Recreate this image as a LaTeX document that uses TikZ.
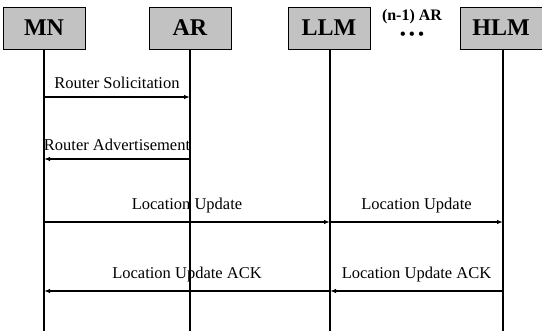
\documentclass[tikz,border=0pt]{standalone}
\usepackage{fontspec}
\setmainfont{Liberation Serif}
\usetikzlibrary{positioning,arrows.meta}
\definecolor{mygray}{rgb}{0.76,0.76,0.76}

\begin{document}
\begin{tikzpicture}[x=1pt, y=1pt, font=\fontsize{16.5}{19}\selectfont,
  entity/.style={draw=black, thick, fill=mygray, minimum width=82pt, minimum height=42pt, inner sep=0pt, font=\fontsize{24}{27}\selectfont\bfseries},
  lifeline/.style={line width=1.4pt},
  msg/.style={line width=1.2pt, -{Latex[length=6pt, width=4.5pt]}},
  msglabel/.style={midway, above=8pt, inner sep=0pt}]
\useasboundingbox (0,0) rectangle (542,331);

% entities
\node[entity] (mn) at (44,303) {MN};
\node[entity] (ar) at (190,303) {AR};
\node[entity] (llm) at (329,303) {LLM};
\node[entity] (hlm) at (501,303) {HLM};

% intermediate access routers
\node[font=\fontsize{16}{18}\selectfont\bfseries] (nar) at (412,314) {(n-1) AR};
\node[font=\fontsize{16}{18}\selectfont\bfseries, below=1pt of nar] (dots) {\textbullet\hspace{3.5pt}\textbullet\hspace{3.5pt}\textbullet};

% lifelines
\coordinate (mnend) at (44,0);
\coordinate (arend) at (190,0);
\coordinate (llmend) at (330,0);
\coordinate (hlmend) at (503,0);
\draw[lifeline] (mn.south) -- (mnend);
\draw[lifeline] (ar.south) -- (arend);
\draw[lifeline] (llmend |- llm.south) -- (llmend);
\draw[lifeline] (hlmend |- hlm.south) -- (hlmend);

% message levels
\coordinate (rs) at (0,234);
\coordinate (ra) at (0,172);
\coordinate (lu) at (0,109);
\coordinate (ack) at (0,40);

% messages
\draw[msg] (mnend |- rs) -- node[msglabel] {Router Solicitation} (arend |- rs);
\draw[msg] (arend |- ra) -- node[msglabel] {Router Advertisement} (mnend |- ra);
\draw[msg] (mnend |- lu) -- node[msglabel] {Location Update} (llmend |- lu);
\draw[msg] (llmend |- lu) -- node[msglabel] {Location Update} (hlmend |- lu);
\draw[msg] (llmend |- ack) -- node[msglabel] {Location Update ACK} (mnend |- ack);
\draw[msg] (hlmend |- ack) -- node[msglabel] {Location Update ACK} (llmend |- ack);

\end{tikzpicture}
\end{document}
